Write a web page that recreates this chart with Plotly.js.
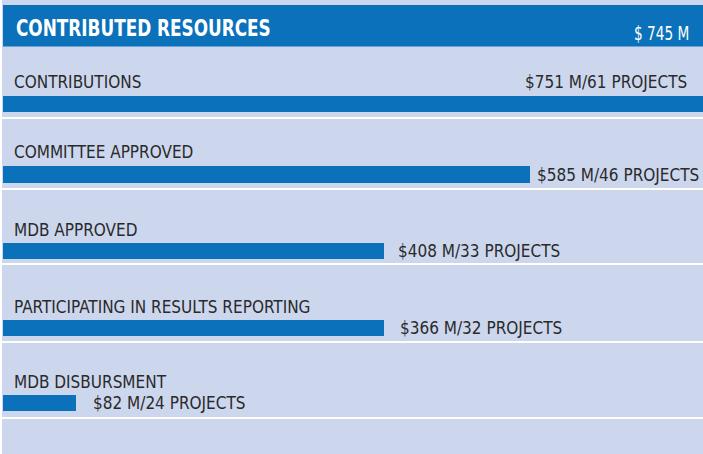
<!DOCTYPE html>
<html>
<head>
<meta charset="utf-8">
<script src="https://cdn.plot.ly/plotly-3.0.1.min.js"></script>
<style>
html,body{margin:0;padding:0;background:#fff;}
#chart{width:703px;height:454px;}
</style>
</head>
<body>
<div id="chart"></div>
<script>
// ---- data ----
const chartTitle = "CONTRIBUTED RESOURCES";
const totalM = 745;
const categories = ["CONTRIBUTIONS", "COMMITTEE APPROVED", "MDB APPROVED", "PARTICIPATING IN RESULTS REPORTING", "MDB DISBURSMENT"];
const amountsM = [751, 585, 408, 366, 82];
const projectCounts = [61, 46, 33, 32, 24];
// drawn bar lengths as they appear in the picture (in $M on the bar scale)
const barLengths = [751, 565, 409, 409, 78];
const axisMax = 751;

// ---- styling / layout ----
const W = 703, H = 454;
const BLUE = "#0A71BA", BG = "#CCD7EE", TEXT = "#2A2A2A";
const FONT = "DejaVu Sans Condensed, DejaVu Sans, sans-serif";
const BODY_SIZE = 17;
const TITLE_SIZE = 23, TITLE_SQUEEZE = 0.815;
const TOTAL_SIZE = 19, TOTAL_SQUEEZE = 0.8;
const barPx = [[96, 112], [166, 183], [243, 259], [320, 336], [395, 411]]; // top, bottom in px
const separatorsPx = [118, 189, 264, 342, 418];
const valueGapPx = [0, 6, 13, 15, 16];
const px = v => v / W, py = v => 1 - v / H;

const traces = [];
const squeeze = [];
const layout = {
  width: W, height: H,
  margin: {l: 0, r: 0, t: 0, b: 0, pad: 0},
  paper_bgcolor: "#ffffff",
  plot_bgcolor: "rgba(0,0,0,0)",
  showlegend: false,
  bargap: 0,
  xaxis: {domain: [px(3), 1], range: [0, axisMax], visible: false, fixedrange: true},
  shapes: [
    {type: "rect", xref: "paper", yref: "paper", x0: px(2), x1: 1, y0: 0, y1: 1, fillcolor: BG, line: {width: 0}, layer: "below"},
    {type: "rect", xref: "paper", yref: "paper", x0: px(3), x1: 1, y0: py(46.5), y1: py(5), fillcolor: BLUE, line: {width: 0}, layer: "below"}
  ],
  annotations: []
};
function addAnn(a, k) { layout.annotations.push(a); squeeze.push(k); }

addAnn({text: "<b>" + chartTitle + "</b>", xref: "paper", yref: "paper", x: px(14), y: py(28.5), xanchor: "left", align: "left", yanchor: "middle", showarrow: false, font: {family: FONT, size: TITLE_SIZE, color: "#ffffff"}}, TITLE_SQUEEZE);
addAnn({text: "$ " + totalM + " M", xref: "paper", yref: "paper", x: px(632), y: py(32.5), xanchor: "left", align: "left", yanchor: "middle", showarrow: false, font: {family: FONT, size: TOTAL_SIZE, color: "#ffffff"}}, TOTAL_SQUEEZE);

separatorsPx.forEach(s => {
  layout.shapes.push({type: "line", xref: "paper", yref: "paper", x0: px(2), x1: 1, y0: py(s), y1: py(s), line: {color: "#ffffff", width: 2}, layer: "below"});
});

categories.forEach((cat, i) => {
  const ya = i === 0 ? "y" : "y" + (i + 1);
  const axKey = i === 0 ? "yaxis" : "yaxis" + (i + 1);
  layout[axKey] = {domain: [py(barPx[i][1]), py(barPx[i][0])], range: [-0.5, 0.5], visible: false, fixedrange: true, anchor: "x", type: "category"};
  traces.push({
    type: "bar", orientation: "h", x: [barLengths[i]], y: [cat], xaxis: "x", yaxis: ya, width: 1,
    marker: {color: BLUE, line: {width: 0}}, hoverinfo: "skip"
  });
  const valueText = "$" + amountsM[i] + " M/" + projectCounts[i] + " PROJECTS";
  addAnn({
    text: cat, xref: "paper", yref: ya + " domain", x: px(12), y: 1, yshift: 13.5,
    xanchor: "left", align: "left", yanchor: "middle", showarrow: false, font: {family: FONT, size: BODY_SIZE, color: TEXT}
  }, 1);
  if (i === 0) {
    addAnn({
      text: valueText, xref: "paper", yref: ya + " domain", x: px(689), y: 1, yshift: 13.5,
      xanchor: "right", align: "right", yanchor: "middle", showarrow: false, font: {family: FONT, size: BODY_SIZE, color: TEXT}
    }, 1);
  } else {
    addAnn({
      text: valueText, xref: "x", yref: ya + " domain", x: barLengths[i], y: 0.5, xshift: valueGapPx[i] - 1,
      xanchor: "left", align: "left", yanchor: "middle", showarrow: false, font: {family: FONT, size: BODY_SIZE, color: TEXT}
    }, 1);
  }
});

Plotly.newPlot("chart", traces, layout, {displayModeBar: false, staticPlot: true}).then(gd => {
  // narrow the header glyphs to imitate the condensed typeface of the reference
  gd.querySelectorAll("g.annotation").forEach(g => {
    const idx = +g.getAttribute("data-index");
    const t = g.querySelector("text.annotation-text");
    if (!t || !(idx in squeeze) || squeeze[idx] === 1) return;
    const w = t.getComputedTextLength();
    t.setAttribute("textLength", (w * squeeze[idx]).toFixed(2));
    t.setAttribute("lengthAdjust", "spacingAndGlyphs");
  });
});
</script>
</body>
</html>
